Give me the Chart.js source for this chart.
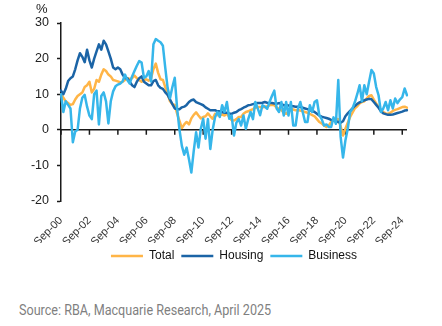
<!DOCTYPE html>
<html>
<head>
<meta charset="utf-8">
<script src="https://cdn.jsdelivr.net/npm/chart.js@4"></script>
<style>
  body { margin: 0; background: #fff; }
  #wrap { position: relative; width: 442px; height: 326px; }
  #box { position: absolute; left: 0; top: 0; width: 442px; height: 276px; }
  #source {
    position: absolute; left: 19px; top: 302px;
    font: 14px Roboto, sans-serif;
    color: #7f7f7f; white-space: nowrap;
    transform: scaleX(0.9); transform-origin: left center;
  }
</style>
</head>
<body>
<div id="wrap">
  <div id="box"><canvas id="creditChart"></canvas></div>
  <div id="source">Source: RBA, Macquarie Research, April 2025</div>
</div>
<script>
// credit growth, % y/y, every second month from Sep-00 to Jan-25
const monthNames = ['Jan','Feb','Mar','Apr','May','Jun','Jul','Aug','Sep','Oct','Nov','Dec'];
const periods = [];
for (let m = 8; m <= 24 * 12 + 8 + 4; m += 2) {
  const yr = 2000 + Math.floor(m / 12);
  periods.push(monthNames[m % 12] + '-' + String(yr).slice(2));
}

const tickLabels = ['Sep-00','Sep-02','Sep-04','Sep-06','Sep-08','Sep-10','Sep-12',
                    'Sep-14','Sep-16','Sep-18','Sep-20','Sep-22','Sep-24'];
const yTicks = [-20, -10, 0, 10, 20, 30];

const total = [
  10, 9, 8, 7.5, 7, 7.2, 8.5, 9.5, 10, 10.5, 12, 12.5,
  13.5, 10.5, 11.5, 14, 13.5, 15.5, 17, 16.5, 15.5, 15, 14, 13.8,
  13.6, 13.3, 13.5, 14, 14.5, 14.2, 14.5, 15.2, 14.5, 14, 13.5, 14,
  14.2, 13.8, 14.5, 17, 18.6, 16, 14.2, 14, 12, 10, 8, 7.2,
  7.0, 4.5, 2.5, 0.5, 1.5, 2.2, 1.5, 3.2, 4.2, 4.9, 4.0, 3.2,
  3.6, 3.8, 4.6, 3.8, 3.1, 4.5, 4.1, 4.2, 4.3, 4.0, 4.6, 3.5,
  2.7, 2.6, 3.0, 3.6, 3.6, 4.5, 5.0, 5.2, 5.5, 5.8, 6.2, 6.4,
  6.4, 6.3, 6.4, 6.6, 6.9, 7.0, 6.9, 6.2, 5.9, 5.5, 4.8, 4.5,
  5.2, 5.9, 5.7, 5.5, 5.5, 5.4, 5.2, 5.0, 4.8, 4.5, 4.1, 3.8,
  3.0, 2.2, 1.8, 1.2, 0.8, 1.2, 2.2, 2.6, 3.1, 3.0, 1.0, -1.6,
  0.3, 2.0, 3.6, 4.8, 6.0, 6.6, 7.4, 7.8, 8.0, 8.8, 9.5, 9.7,
  8.5, 7.4, 6.5, 5.5, 5.0, 4.6, 4.5, 4.8, 5.3, 5.6, 5.8, 6.1,
  6.4, 6.5, 6.2
];

const housing = [
  11, 10, 11.5, 13.7, 14.5, 15, 17, 19.5, 21.5, 20.5, 19, 22.5,
  19.5, 17.5, 20, 22, 24, 22.5, 25, 24, 22, 20, 17.5, 17,
  17.5, 17, 15.5, 14.5, 14.5, 13.5, 12.5, 12, 13.5, 14.5, 15, 13.5,
  13, 12.5, 12.5, 13.7, 14, 12.5, 11.8, 11.5, 10.5, 9.8, 8.5, 7.2,
  6.0, 5.8, 5.8, 6.3, 6.5, 7.0, 7.8, 8.3, 8.5, 7.8, 7.5, 7.2,
  6.9, 6.3, 5.9, 5.5, 5.5, 5.5, 5.2, 5.2, 5.0, 4.8, 4.8, 4.6,
  4.5, 4.8, 5.0, 5.5, 5.8, 6.2, 6.5, 6.9, 7.0, 7.2, 7.4, 7.5,
  7.5, 7.6, 7.8, 7.6, 7.5, 7.5, 7.4, 7.3, 7.5, 7.2, 6.9, 6.9,
  6.8, 6.7, 6.6, 6.5, 6.5, 6.4, 6.2, 6.0, 5.8, 5.5, 5.3, 5.0,
  4.5, 4.0, 3.7, 3.5, 3.3, 3.1, 2.8, 2.6, 2.4, 2.2, 2.0, 2.4,
  3.8, 4.6, 5.3, 6.0, 6.7, 7.3, 7.7, 8.0, 8.3, 8.5, 8.7, 8.6,
  7.8, 7.0, 6.2, 5.2, 4.6, 4.4, 4.2, 4.2, 4.3, 4.5, 4.7, 4.9,
  5.1, 5.4, 5.5
];

const business = [
  10, 5, 8, 7, 6, -3.5, -0.5, 0, 6, 9, 9.8, 6.5,
  4, 3, 10, 11, 1.5, 9.5, 10.5, 8, 1.8, 8, 10.8, 12.2,
  12.7, 13, 13.6, 15.5, 14, 13, 15, 16.5, 18, 19.3, 18.9, 14.6,
  15, 16.5, 13.6, 24, 25.5, 25, 24.6, 23.6, 17.4, 11.7, 8.9, 12,
  14.6, 6, 0, -4.5, -7, -5, -8.3, -12, -6, -0.7, -5, 0.3,
  3.1, -2.5, 3, -5.4, 0, 3.5, 5.0, 3.6, 6.9, 5, 7.8, 3.1,
  4, -1.6, 2, 3, 1.2, 4, 0.3, 3, 5, 3, 7.8, 6,
  4.1, 6.9, 6.5, 5.9, 7.8, 9.5, 11, 6, 5, 7.8, 4, 7.8,
  4, 7.8, 1.2, 1.2, 6, 7.8, 5, 2.2, 2.2, 6.9, 5, 7.8,
  8.3, 4.1, 3, 1.2, 1.5, 0.8, 0.8, 3.5, 1.7, 14, -2, -7.8,
  -3, 0.3, 5, 6, 7.8, 10, 12.5, 8, 12.5, 10, 13.5, 16.8,
  15.8, 12, 9.7, 5, 6, 7.8, 5.5, 8.3, 6, 8.8, 7.5, 8.5,
  9.2, 11.6, 9.7
];

const axisColor = '#1a1a1a';
const fontFamily = 'Arial, "Liberation Sans", sans-serif';

// x axis sits on the zero line with short ticks hanging below it
const zeroAxis = {
  id: 'zeroAxis',
  beforeDatasetsDraw(chart) {
    const { ctx, chartArea, scales: { x, y } } = chart;
    const y0 = y.getPixelForValue(0);
    ctx.save();
    ctx.strokeStyle = axisColor;
    ctx.lineWidth = 1.5;
    ctx.beginPath();
    ctx.moveTo(chartArea.left, y0);
    ctx.lineTo(chartArea.right, y0);
    periods.forEach((p, i) => {
      if (tickLabels.includes(p)) {
        const px = x.getPixelForValue(i);
        ctx.moveTo(px, y0);
        ctx.lineTo(px, y0 + 5);
      }
    });
    ctx.stroke();
    ctx.restore();
  },
  afterDraw(chart) {
    const { ctx } = chart;
    ctx.save();
    ctx.fillStyle = axisColor;
    ctx.font = '13px ' + fontFamily;
    ctx.textBaseline = 'top';
    ctx.fillText('%', 36, 3);
    ctx.restore();
  }
};

const ctx = document.getElementById('creditChart');
const creditChart = new Chart(ctx, {
  type: 'line',
  data: {
    labels: periods,
    datasets: [{
      label: 'Total',
      data: total,
      borderColor: '#ffb547',
      borderWidth: 2.5,
      order: 2
    }, {
      label: 'Housing',
      data: housing,
      borderColor: '#1b64a6',
      borderWidth: 2.5,
      order: 1
    }, {
      label: 'Business',
      data: business,
      borderColor: '#36b6ea',
      borderWidth: 2.5,
      order: 0
    }]
  },
  options: {
    responsive: true,
    maintainAspectRatio: false,
    animation: false,
    elements: {
      point: { radius: 0 },
      line: { tension: 0, borderCapStyle: 'round', borderJoinStyle: 'round' }
    },
    layout: { padding: { left: 0, top: 23, right: 35, bottom: 4 } },
    scales: {
      x: {
        type: 'category',
        offset: false,
        afterFit: s => { s.height = 42; },
        grid: { display: false, drawTicks: false },
        border: { display: false },
        ticks: {
          autoSkip: false,
          minRotation: 45,
          maxRotation: 45,
          padding: 13,
          color: '#333',
          font: { size: 11, family: fontFamily },
          callback: function (v) {
            const lab = this.getLabelForValue(v);
            return tickLabels.includes(lab) ? lab : '';
          }
        }
      },
      y: {
        min: -20,
        max: 30,
        afterFit: s => { s.width = 61; },
        afterBuildTicks: s => { s.ticks = yTicks.map(v => ({ value: v })); },
        grid: { drawOnChartArea: false, drawTicks: true, tickLength: 4, tickColor: axisColor, tickWidth: 1.5 },
        border: { display: true, color: axisColor, width: 1.5 },
        ticks: {
          padding: 8,
          color: '#222',
          font: { size: 12.5, family: fontFamily }
        }
      }
    },
    plugins: {
      legend: {
        position: 'bottom',
        fullSize: false,
        labels: {
          usePointStyle: true,
          pointStyle: 'line',
          pointStyleWidth: 32,
          padding: 7,
          color: '#111',
          font: { size: 12, family: fontFamily },
          sort: (a, b) => a.datasetIndex - b.datasetIndex
        }
      },
      tooltip: { enabled: false }
    }
  },
  plugins: [zeroAxis]
});
</script>
</body>
</html>
